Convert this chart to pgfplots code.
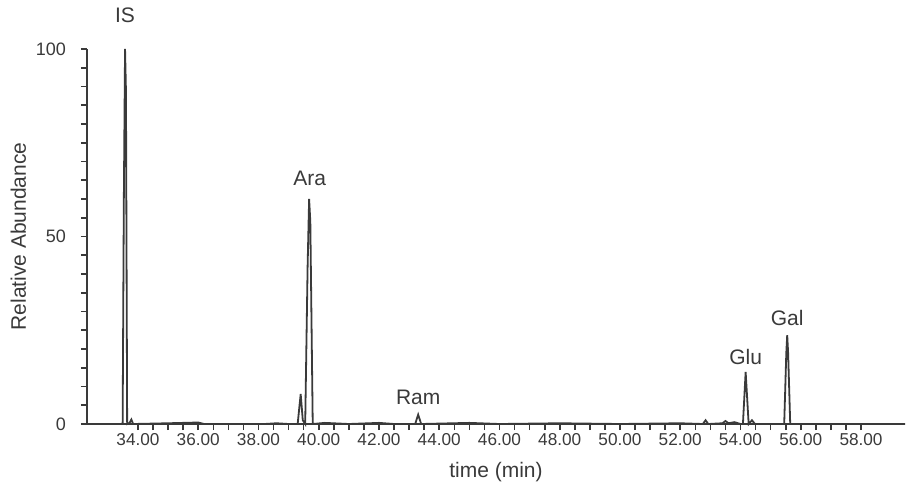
\documentclass[border=0pt]{standalone}
\usepackage{pgfplots}
\pgfplotsset{compat=1.18}
\usepackage{fontspec}
\setmainfont{Liberation Sans}
\definecolor{ink}{HTML}{3A3A3A}
\begin{document}
\begin{tikzpicture}[x=1pt,y=1pt]
\begin{axis}[
  name=ax,
  scale only axis, width=409pt, height=187.5pt,
  clip=false,
  xmin=32.307, xmax=59.46, ymin=0, ymax=100,
  axis x line=bottom, axis y line=left,
  axis line style={-, ink, line width=0.9pt},
  tick align=outside, major tick length=3pt, minor tick length=3pt,
  every tick/.style={ink, line width=0.8pt},
  xtick={34,36,...,58}, minor x tick num=3,
  ytick={0,50,100}, minor y tick num=9,
  /pgf/number format/assume math mode=true,
  xticklabel style={font=\fontsize{8.6}{9}\selectfont, text=ink, yshift=2pt, /pgf/number format/.cd, fixed, fixed zerofill, precision=2},
  yticklabel style={font=\fontsize{9}{10}\selectfont, text=ink, xshift=-4pt},
  xlabel={time (min)}, ylabel={Relative Abundance},
  xlabel style={font=\fontsize{10.5}{12}\selectfont, text=ink, yshift=-1.5pt},
  ylabel style={font=\fontsize{10.5}{12}\selectfont, text=ink, yshift=-2pt},
]
\addplot[ink, line width=0.9pt] coordinates {
(32.307,0) (33.2,0) (33.49,0) (33.53,60) (33.57,100) (33.6,89) (33.64,0)
(33.72,0.3) (33.78,1.2) (33.84,0) (35.0,0.2) (36.0,0.4) (36.2,0) (38.2,0) (38.6,0.2) (39.0,0)
(39.3,0) (39.4,8) (39.47,1) (39.55,0) (39.63,42) (39.68,60) (39.72,54) (39.8,0)
(40.2,0.3) (41.0,0) (42.0,0.3) (42.5,0) (43.2,0) (43.3,2.5) (43.4,0) (45.0,0.3) (46.0,0)
(48.0,0.2) (50.0,0) (52.0,0.2) (52.75,0) (52.84,1) (52.93,0)
(53.4,0.2) (53.5,0.8) (53.6,0.2) (53.8,0.5) (54.0,0)
(54.08,0) (54.17,13.9) (54.27,0) (54.38,1) (54.48,0)
(55.45,0) (55.52,19) (55.55,23.7) (55.58,19) (55.65,0) (59.46,0)
};
\path[font=\fontsize{10.5}{12}\selectfont, text=ink]
  (axis cs:33.57,109) node {IS}
  (axis cs:39.7,65.5) node {Ara}
  (axis cs:43.3,7.2) node {Ram}
  (axis cs:54.17,17.9) node {Glu}
  (axis cs:55.55,28.3) node {Gal};
\end{axis}
\pgfresetboundingbox
\path[use as bounding box] ([xshift=-43.5pt,yshift=-32pt]ax.south west) rectangle ([xshift=2pt,yshift=24.5pt]ax.north east);
\end{tikzpicture}
\end{document}
